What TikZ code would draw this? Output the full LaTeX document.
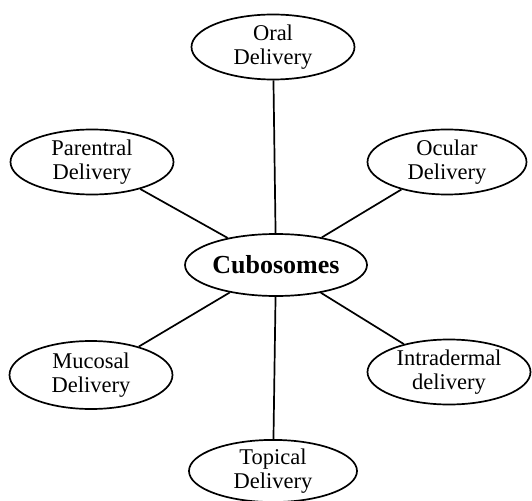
\documentclass[tikz,border=0pt]{standalone}
\usepackage{fontspec}
\setmainfont{Liberation Serif}
\usepackage{tikz}
\usetikzlibrary{shapes.geometric}

\begin{document}
\begin{tikzpicture}[x=1bp,y=-1bp]
\useasboundingbox (0,0) rectangle (532,501);
\begin{scope}[every node/.style={ellipse,draw,line width=1.7bp,inner sep=0pt,align=center,
    minimum width=163bp,minimum height=65bp,font=\fontsize{22.5bp}{23.5bp}\selectfont}]
    \node (0) at (276,265) [minimum width=182bp,minimum height=62bp,font=\fontsize{26bp}{28bp}\selectfont\bfseries] {Cubosomes};
    \node (1) at (273,47) {Oral\\Delivery};
    \node (2) at (92,162) {Parentral\\Delivery};
    \node (3) at (447,162) [minimum width=159bp] {Ocular\\Delivery};
    \node (4) at (91,375) [minimum height=68bp] {Mucosal\\Delivery};
    \node (5) at (449,372) {Intradermal\\delivery};
    \node (6) at (273,471) [minimum width=168bp,minimum height=58bp] {Topical\\Delivery};
\end{scope}

\draw[line width=1.7bp] (0) -- (1);
\draw[line width=1.7bp] (0) -- (2);
\draw[line width=1.7bp] (0) -- (3);
\draw[line width=1.7bp] (0) -- (4);
\draw[line width=1.7bp] (0) -- (5);
\draw[line width=1.7bp] (0) -- (6);
\end{tikzpicture}
\end{document}
